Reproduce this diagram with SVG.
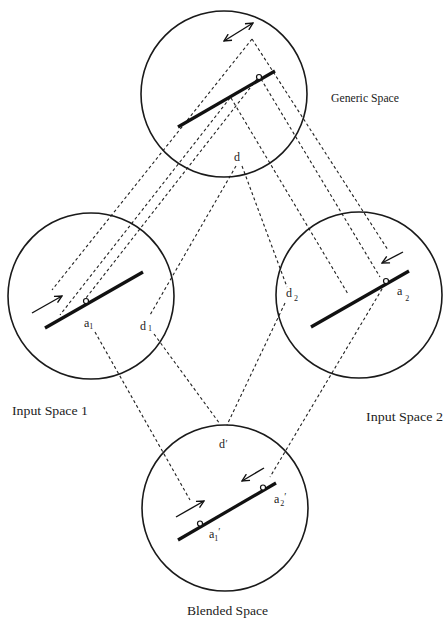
<svg xmlns="http://www.w3.org/2000/svg" width="444" height="618" viewBox="0 0 444 618">
<style>
.sp{fill:none;stroke:#1a1a1a;stroke-width:1.6}
.thick{stroke:#111;stroke-width:3.2;stroke-linecap:butt}
.dot{fill:#fff;stroke:#111;stroke-width:1.2}
.arr{stroke:#111;stroke-width:1.4;fill:none}
.dash{stroke:#222;stroke-width:1.1;stroke-dasharray:3 2.6;fill:none}
.lbl{font-family:"Liberation Serif","Times New Roman",serif;font-size:12px;fill:#222}
.ttl{font-family:"Liberation Serif","Times New Roman",serif;font-size:12px;fill:#222}
.sub{font-size:8px}
.pr{font-size:10px}
</style>
<defs>
<marker id="ah" viewBox="0 0 10 10" refX="9" refY="5" markerWidth="9" markerHeight="9" markerUnits="userSpaceOnUse" orient="auto-start-reverse">
<path d="M1,1 L9,5 L1,9" fill="none" stroke="#111" stroke-width="1.5"/>
</marker>
</defs>
<rect width="444" height="618" fill="#fff"/>

<g id="connectors">
<line class="dash" x1="252" y1="39" x2="52" y2="290"/>
<line class="dash" x1="230" y1="98" x2="60" y2="315"/>
<line class="dash" x1="257" y1="79" x2="86" y2="298"/>
<line class="dash" x1="252" y1="39" x2="388" y2="250"/>
<line class="dash" x1="261" y1="79" x2="380" y2="277"/>
<line class="dash" x1="231" y1="98" x2="348" y2="294"/>
<line class="dash" x1="236" y1="166" x2="150" y2="315"/>
<line class="dash" x1="242" y1="166" x2="287" y2="287"/>
<line class="dash" x1="154" y1="334" x2="220" y2="424"/>
<line class="dash" x1="285" y1="303" x2="227" y2="425"/>
<line class="dash" x1="95" y1="332" x2="190" y2="500"/>
<line class="dash" x1="385" y1="284" x2="270" y2="477"/>
</g>

<g id="generic-space">
<circle class="sp" cx="224" cy="94" r="83"/>
<line class="thick" x1="178" y1="127" x2="275" y2="71"/>
<circle class="dot" cx="259" cy="77" r="2.5"/>
<line class="arr" x1="224" y1="41" x2="253" y2="23" marker-start="url(#ah)" marker-end="url(#ah)"/>
<text class="lbl" x="234" y="161">d</text>
<text class="ttl" x="331" y="102" textLength="68" lengthAdjust="spacingAndGlyphs">Generic Space</text>
</g>

<g id="input-space-1">
<circle class="sp" cx="91" cy="296" r="83"/>
<line class="thick" x1="45" y1="328" x2="143" y2="272"/>
<circle class="dot" cx="86" cy="301" r="2.5"/>
<line class="arr" x1="32" y1="313" x2="62" y2="296" marker-end="url(#ah)"/>
<text class="lbl" x="84" y="327">a<tspan class="sub" dy="2">1</tspan></text>
<text class="lbl" x="140" y="330">d<tspan class="sub" dx="2" dy="1">1</tspan></text>
<text class="ttl" x="12" y="415" textLength="76" lengthAdjust="spacingAndGlyphs">Input Space 1</text>
</g>

<g id="input-space-2">
<circle class="sp" cx="359" cy="295" r="83"/>
<line class="thick" x1="311" y1="327" x2="409" y2="271"/>
<circle class="dot" cx="386" cy="281" r="2.5"/>
<line class="arr" x1="403" y1="252" x2="382" y2="263" marker-end="url(#ah)"/>
<text class="lbl" x="397" y="295">a<tspan class="sub" dx="3" dy="6">2</tspan></text>
<text class="lbl" x="286" y="297">d<tspan class="sub" dx="2" dy="4">2</tspan></text>
<text class="ttl" x="366" y="421" textLength="77" lengthAdjust="spacingAndGlyphs">Input Space 2</text>
</g>

<g id="blended-space">
<circle class="sp" cx="225" cy="508" r="83"/>
<line class="thick" x1="178" y1="540" x2="276" y2="483"/>
<circle class="dot" cx="200" cy="523.5" r="2.5"/>
<circle class="dot" cx="263" cy="487.5" r="2.5"/>
<line class="arr" x1="176" y1="517" x2="204" y2="501" marker-end="url(#ah)"/>
<line class="arr" x1="264" y1="468" x2="242" y2="481" marker-end="url(#ah)"/>
<text class="lbl" x="219" y="448">d<tspan class="pr" dx="0.5" dy="-1">′</tspan></text>
<text class="lbl" x="209" y="538">a<tspan class="sub" dy="3">1</tspan><tspan class="pr" dy="-6">′</tspan></text>
<text class="lbl" x="274" y="503">a<tspan class="sub" dx="1" dy="3">2</tspan><tspan class="pr" dy="-6">′</tspan></text>
<text class="ttl" x="187" y="615" textLength="81" lengthAdjust="spacingAndGlyphs">Blended Space</text>
</g>
</svg>
